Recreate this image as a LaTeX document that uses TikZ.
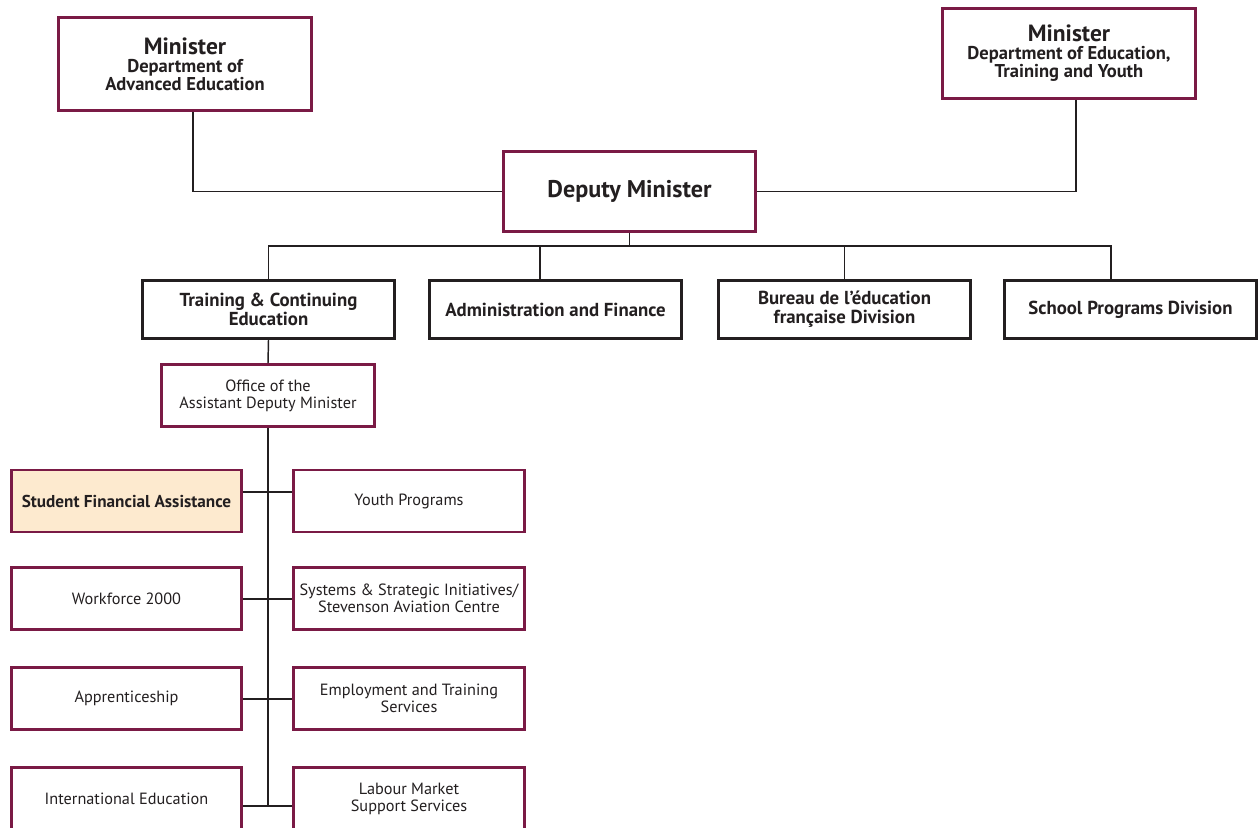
\documentclass[tikz,border=0pt]{standalone}
\usepackage{fontspec}
\setmainfont{PT Sans}
\usetikzlibrary{positioning,calc}
\definecolor{maroon}{HTML}{7A1A45}
\definecolor{peach}{HTML}{FDEACF}
\definecolor{textgray}{HTML}{231F20}
\begin{document}
\begin{tikzpicture}[x=0.75pt,y=-0.75pt,
  top/.style={draw=maroon,line width=2.2pt,fill=white,minimum width=190pt,
    align=center,inner sep=2pt,text=textgray,
    font=\fontsize{13.9}{13.5}\selectfont\bfseries},
  div/.style={draw=textgray,line width=2.2pt,fill=white,minimum width=189pt,
    minimum height=43.5pt,align=center,inner sep=2pt,text=textgray,
    font=\fontsize{14.1}{14.4}\selectfont\bfseries},
  unit/.style={draw=maroon,line width=2pt,fill=white,minimum width=172.5pt,
    minimum height=46.5pt,align=center,inner sep=1pt,text=textgray,
    font=\fontsize{12.2}{12.8}\selectfont},
  c/.style={line width=1.1pt,textgray}]
\clip (0,0) rectangle (1260,828);
\fill[white] (0,0) rectangle (1260,828);
% ministers and deputy
\node[top,minimum height=70pt] (m1) at (185,64)
  {\fontsize{17.6}{15.7}\selectfont Minister\\
   \fontsize{13.9}{13.5}\selectfont Department of\\Advanced Education};
\node[top,minimum height=67.5pt] (m2) at (1069,53.5)
  {\fontsize{17.6}{15.7}\selectfont Minister\\
   \fontsize{13.9}{13.5}\selectfont Department of Education,\\Training and Youth};
\node[top,minimum width=189pt,minimum height=60pt,
  font=\fontsize{18.1}{20}\selectfont\bfseries] (dm) at (629.5,191.5) {Deputy Minister};
\draw[c] (m1.south -| 193,0) |- (dm.west);
\draw[c] (m2.south -| 1076,0) |- (dm.east);
% divisions
\node[div] (d1) at (268.5,309.5) {Training \& Continuing\\Education};
\node[div] (d2) at (555.5,309.5) {Administration and Finance};
\node[div] (d3) at (844.5,309.5) {Bureau de l’éducation\\française Division};
\node[div] (d4) at (1130.5,309.5) {School Programs Division};
\coordinate (bus) at (629.5,246);
\draw[c] (dm.south) -- (bus);
\draw[c] (d1.north) |- (bus);
\draw[c] (d4.north -| 1111,0) |- (bus);
\draw[c] (d2.north -| 540,0) -- (540,246);
\draw[c] (d3.north) -- (d3.north |- bus);
% training and continuing education
\node[unit,minimum width=160pt] (adm) at (268,395.5) {Office of the\\Assistant Deputy Minister};
\draw[c] (d1.south) -- (adm.north);
\coordinate (sp) at (268,806);
\draw[c] (adm.south) -- (sp);
\node[unit,fill=peach,font=\fontsize{12.9}{13.5}\selectfont\bfseries] (l1) at (126.5,501)
  {Student Financial Assistance};
\node[unit] (l2) at (126.5,598.5) {Workforce 2000};
\node[unit] (l3) at (126.5,698.5) {Apprenticeship};
\node[unit] (l4) at (126.5,798.5) {International Education};
\node[unit,minimum width=173pt] (r1) at (409,501) {Youth Programs};
\node[unit,minimum width=173pt] (r2) at (409,598.5) {Systems \& Strategic Initiatives/\\Stevenson Aviation Centre};
\node[unit,minimum width=173pt] (r3) at (409,698.5) {Employment and Training\\Services};
\node[unit,minimum width=173pt] (r4) at (409,798.5) {Labour Market\\Support Services};
\draw[c] (l1.east |- 0,492) -- (r1.west |- 0,492);
\draw[c] (l2.east |- 0,599) -- (r2.west |- 0,599);
\draw[c] (l3.east |- 0,699) -- (r3.west |- 0,699);
\draw[c] (l4.east |- sp) -- (r4.west |- sp);
\end{tikzpicture}
\end{document}
